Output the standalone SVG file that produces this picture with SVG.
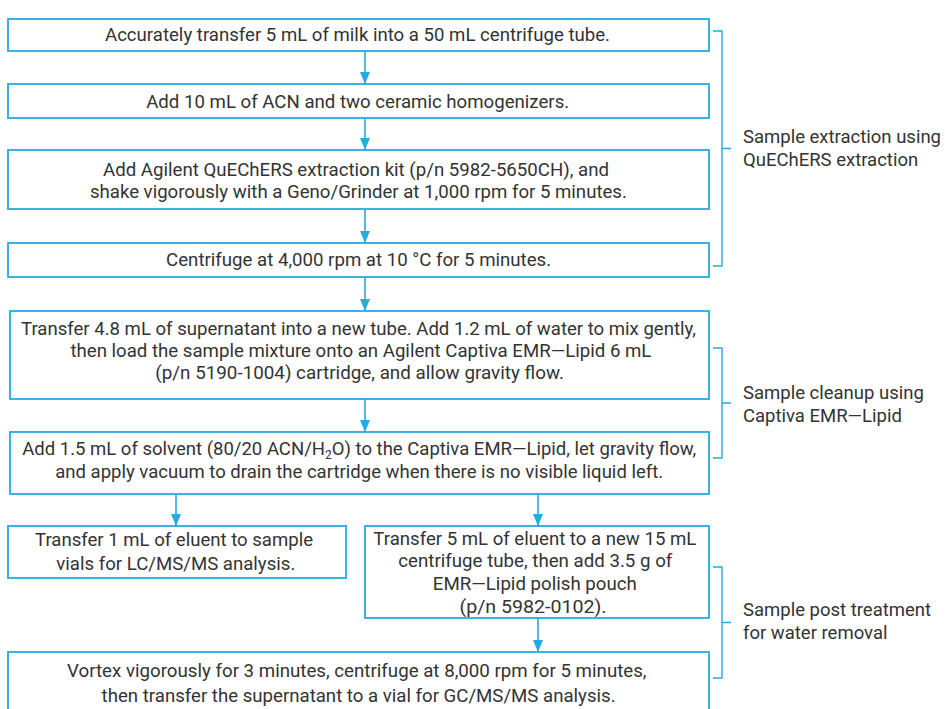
<svg xmlns="http://www.w3.org/2000/svg" width="945" height="709" viewBox="0 0 945 709">
<defs>
<style>
.box{fill:#fff;stroke:#27a9e1;stroke-width:1.8}
.t{font-family:Roboto,"Liberation Sans",sans-serif;font-size:18.5px;fill:#333;text-anchor:middle}
.lab{font-family:Roboto,"Liberation Sans",sans-serif;font-size:18.5px;fill:#333}
.ln{stroke:#27a9e1;stroke-width:1.6;fill:none}
.br{stroke:#27a9e1;stroke-width:1.4;fill:none}
</style>
<marker id="dn" viewBox="0 0 10 12" refX="5" refY="12" markerWidth="10" markerHeight="12" markerUnits="userSpaceOnUse">
<path d="M0,0 L10,0 L5,12 Z" fill="#27a9e1"/>
</marker>
</defs>
<rect width="945" height="709" fill="#fff"/>

<g id="connectors">
<line class="ln" x1="365" y1="51" x2="365" y2="84" marker-end="url(#dn)"/>
<line class="ln" x1="365" y1="118" x2="365" y2="150" marker-end="url(#dn)"/>
<line class="ln" x1="365" y1="209" x2="365" y2="243" marker-end="url(#dn)"/>
<line class="ln" x1="365" y1="277" x2="365" y2="311" marker-end="url(#dn)"/>
<line class="ln" x1="365" y1="399" x2="365" y2="432" marker-end="url(#dn)"/>
<line class="ln" x1="176" y1="494" x2="176" y2="526" marker-end="url(#dn)"/>
<line class="ln" x1="538" y1="494" x2="538" y2="526" marker-end="url(#dn)"/>
<line class="ln" x1="538" y1="618" x2="538" y2="652" marker-end="url(#dn)"/>
</g>

<g id="n1">
<rect class="box" x="8" y="19" width="701" height="32"/>
<text class="t" x="357.5" y="41" textLength="505" lengthAdjust="spacingAndGlyphs">Accurately transfer 5 mL of milk into a 50 mL centrifuge tube.</text>
</g>
<g id="n2">
<rect class="box" x="8" y="84" width="701" height="34"/>
<text class="t" x="357.7" y="107.5" textLength="423" lengthAdjust="spacingAndGlyphs">Add 10 mL of ACN and two ceramic homogenizers.</text>
</g>
<g id="n3">
<rect class="box" x="8" y="150" width="701" height="59"/>
<text class="t" x="356" y="175.5" textLength="506" lengthAdjust="spacingAndGlyphs">Add Agilent QuEChERS extraction kit (p/n 5982-5650CH), and</text>
<text class="t" x="358.4" y="197.5" textLength="537" lengthAdjust="spacingAndGlyphs">shake vigorously with a Geno/Grinder at 1,000 rpm for 5 minutes.</text>
</g>
<g id="n4">
<rect class="box" x="8" y="243" width="701" height="34"/>
<text class="t" x="358.6" y="266" textLength="385" lengthAdjust="spacingAndGlyphs">Centrifuge at 4,000 rpm at 10 °C for 5 minutes.</text>
</g>
<g id="n5">
<rect class="box" x="10" y="311" width="699" height="88"/>
<text class="t" x="358.5" y="335" textLength="675" lengthAdjust="spacingAndGlyphs">Transfer 4.8 mL of supernatant into a new tube. Add 1.2 mL of water to mix gently,</text>
<text class="t" x="360.9" y="357" textLength="581" lengthAdjust="spacingAndGlyphs">then load the sample mixture onto an Agilent Captiva EMR—Lipid 6 mL</text>
<text class="t" x="359.6" y="379" textLength="408.5" lengthAdjust="spacingAndGlyphs">(p/n 5190-1004) cartridge, and allow gravity flow.</text>
</g>
<g id="n6">
<rect class="box" x="10" y="432" width="699" height="62"/>
<text class="t" x="359.2" y="455" textLength="674" lengthAdjust="spacingAndGlyphs">Add 1.5 mL of solvent (80/20 ACN/H<tspan font-size="12" dy="4">2</tspan><tspan dy="-4">O) to the Captiva EMR—Lipid, let gravity flow,</tspan></text>
<text class="t" x="359.2" y="478" textLength="608" lengthAdjust="spacingAndGlyphs">and apply vacuum to drain the cartridge when there is no visible liquid left.</text>
</g>
<g id="n7">
<rect class="box" x="8" y="526" width="338" height="52"/>
<text class="t" x="174" y="546" textLength="278" lengthAdjust="spacingAndGlyphs">Transfer 1 mL of eluent to sample</text>
<text class="t" x="175.8" y="570" textLength="239" lengthAdjust="spacingAndGlyphs">vials for LC/MS/MS analysis.</text>
</g>
<g id="n8">
<rect class="box" x="365" y="526" width="344" height="92"/>
<text class="t" x="534.8" y="544.5" textLength="323" lengthAdjust="spacingAndGlyphs">Transfer 5 mL of eluent to a new 15 mL</text>
<text class="t" x="535.3" y="567" textLength="274" lengthAdjust="spacingAndGlyphs">centrifuge tube, then add 3.5 g of</text>
<text class="t" x="534.8" y="590" textLength="204" lengthAdjust="spacingAndGlyphs">EMR—Lipid polish pouch</text>
<text class="t" x="533" y="613" textLength="147" lengthAdjust="spacingAndGlyphs">(p/n 5982-0102).</text>
</g>
<g id="n9">
<rect class="box" x="8" y="652" width="701" height="70"/>
<text class="t" x="356.8" y="677" textLength="579.5" lengthAdjust="spacingAndGlyphs">Vortex vigorously for 3 minutes, centrifuge at 8,000 rpm for 5 minutes,</text>
<text class="t" x="358.6" y="702" textLength="514" lengthAdjust="spacingAndGlyphs">then transfer the supernatant to a vial for GC/MS/MS analysis.</text>
</g>

<g id="group1">
<path class="br" d="M713,31 H722 V266 H713 M722,148.5 H731"/>
<text class="lab" x="743" y="143">Sample extraction using</text>
<text class="lab" x="743" y="166">QuEChERS extraction</text>
</g>
<g id="group2">
<path class="br" d="M713,348 H722 V458 H713 M722,403 H731"/>
<text class="lab" x="743" y="399">Sample cleanup using</text>
<text class="lab" x="743" y="422">Captiva EMR—Lipid</text>
</g>
<g id="group3">
<path class="br" d="M713,567 H722 V678 H713 M722,622.5 H731"/>
<text class="lab" x="743" y="616">Sample post treatment</text>
<text class="lab" x="743" y="639">for water removal</text>
</g>
</svg>
